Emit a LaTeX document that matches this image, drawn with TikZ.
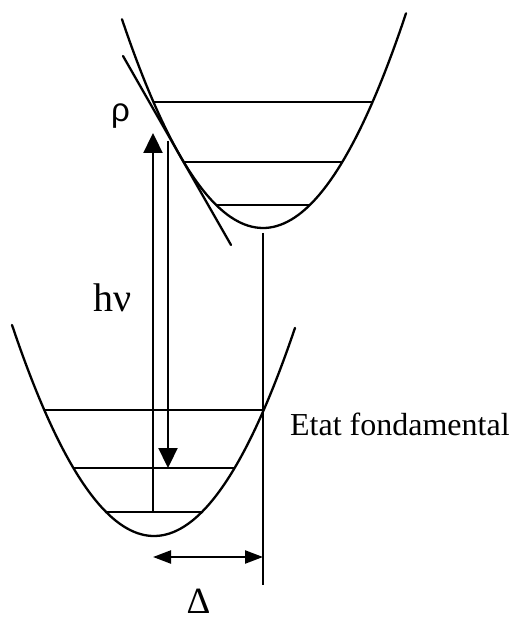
\documentclass[tikz,border=0pt]{standalone}
\usepackage{fontspec}
\setmainfont{Liberation Serif}
\newfontfamily\symfont{Liberation Sans}
\usetikzlibrary{arrows.meta}
\begin{document}
\begin{tikzpicture}[x=0.5pt,y=-0.5pt, line width=1.15pt, line cap=round,
  well/.style={line width=1.15pt},
  levelline/.style={line width=1.15pt, line cap=butt},
  bigarrow/.style={-{Triangle[length=10pt,width=9.5pt]}},
  dimarrow/.style={{Triangle[length=9pt,width=6.5pt]}-{Triangle[length=9pt,width=6.5pt]}},
  lbl/.style={font=\fontsize{16}{19}\selectfont, inner sep=0pt},
  rholbl/.style={font=\symfont\fontsize{16.5}{19}\selectfont, inner sep=0pt},
  deltalbl/.style={font=\fontsize{18.5}{22}\selectfont, inner sep=0pt},
  biglbl/.style={font=\fontsize{20}{23}\selectfont, inner sep=0pt}]
\useasboundingbox (0,0) rectangle (508,619);

% upper (excited) potential well
\draw[well] plot[smooth, domain=122:406, samples=80] (\x, {228-0.0105*(\x-263)*(\x-263)});
% lower (ground) potential well
\draw[well] plot[smooth, domain=12:295, samples=80] (\x, {536-0.01046*(\x-154)*(\x-154)});

% level end points, upper well
\coordinate (u1l) at (154,102); \coordinate (u1r) at (373,102);
\coordinate (u2l) at (184,162); \coordinate (u2r) at (342,162);
\coordinate (u3l) at (216,205); \coordinate (u3r) at (310,205);
% level end points, lower well
\coordinate (l1l) at (44,410);  \coordinate (l1r) at (263,410);
\coordinate (l2l) at (73,468);  \coordinate (l2r) at (235,468);
\coordinate (l3l) at (106,512); \coordinate (l3r) at (202,512);

\draw[levelline] (u1l) -- (u1r);
\draw[levelline] (u2l) -- (u2r);
\draw[levelline] (u3l) -- (u3r);
\draw[levelline] (l1l) -- (l1r);
\draw[levelline] (l2l) -- (l2r);
\draw[levelline] (l3l) -- (l3r);

% tangent line
\coordinate (t1) at (123,56);
\coordinate (t2) at (231,245);
\draw[well] (t1) -- (t2);

% vertical line from minimum of upper well
\coordinate (vtop) at (263,233);
\coordinate (vbot) at (263,585);
\draw[well, line cap=butt] (vtop) -- (vbot);

% absorption arrow (up)
\coordinate (upstart) at (153,512);
\coordinate (uptip) at (153,133);
\draw[bigarrow, line cap=butt] (upstart) -- (uptip);

% emission arrow (down)
\coordinate (dnstart) at (168,141);
\coordinate (dntip) at (168,468);
\draw[bigarrow, line cap=butt] (dnstart) -- (dntip);

% Delta arrow
\coordinate (dl) at (153,557);
\coordinate (dr) at (263,557);
\draw[dimarrow, line cap=butt] (dl) -- (dr);

% labels
\node[rholbl, anchor=base west] (rho) at (110,122) {ρ};
\node[biglbl, anchor=base west] (hnu) at (92,312) {hν};
\node[lbl, anchor=base west] (etat) at (289,435) {Etat fondamental};
\node[deltalbl, anchor=base] (delta) at (198.5,613) {Δ};
\end{tikzpicture}
\end{document}
